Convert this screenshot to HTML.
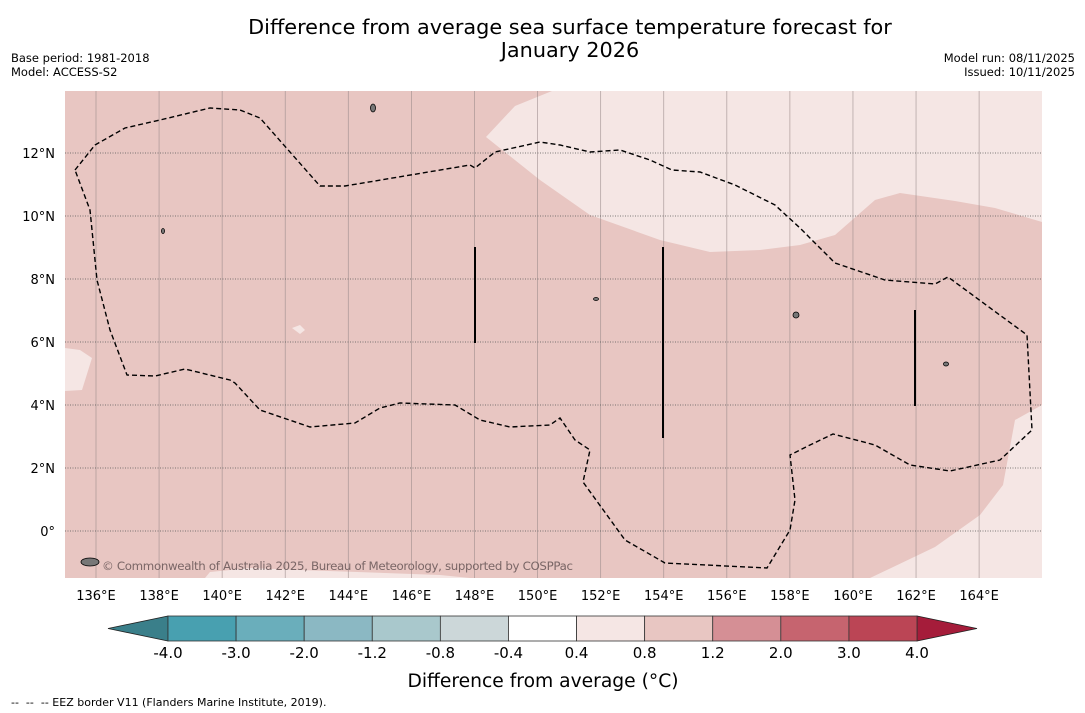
<!DOCTYPE html>
<html><head><meta charset="utf-8"><style>
body{margin:0;background:#fff;width:1085px;height:713px;overflow:hidden;font-family:"Liberation Sans","DejaVu Sans",sans-serif}
svg{position:absolute;left:0;top:0}
</style></head><body>
<svg id="c" width="1085" height="713" font-family="DejaVu Sans, Liberation Sans, sans-serif">
<text x="570" y="34" font-size="20.8" text-anchor="middle">Difference from average sea surface temperature forecast for</text>
<text x="570" y="57" font-size="20.8" text-anchor="middle">January 2026</text>
<text x="11" y="62" font-size="11.5">Base period: 1981-2018</text>
<text x="11" y="76" font-size="11.5">Model: ACCESS-S2</text>
<text x="1075" y="62" font-size="11.5" text-anchor="end">Model run: 08/11/2025</text>
<text x="1075" y="76" font-size="11.5" text-anchor="end">Issued: 10/11/2025</text>
<g id="map"></g>
<g id="cb"></g>
<text x="543" y="687" font-size="18.7" text-anchor="middle">Difference from average (°C)</text>
<text x="11" y="706" font-size="11" xml:space="preserve">--  --  -- EEZ border V11 (Flanders Marine Institute, 2019).</text>
</svg>
<script>
const lonTicks=[136,138,140,142,144,146,148,150,152,154,156,158,160,162,164];
const latTicks=[0,2,4,6,8,10,12];
const cbBounds=["-4.0","-3.0","-2.0","-1.2","-0.8","-0.4","0.4","0.8","1.2","2.0","3.0","4.0"];
const cbColors=["#48a0b0","#6aaebb","#8bb8c3","#a9c8cc","#ccd7d9","#ffffff","#f5e6e4","#e8c6c2","#d58f95","#c6646f","#bb4555"];
const ns="http://www.w3.org/2000/svg";
const X0=65,X1=1042,Y0=91,Y1=578;
const xLon=l=>96+(l-136)*31.54;
const yLat=l=>531-l*31.5;
function mk(p,t,a){const e=document.createElementNS(ns,t);for(const k in a)e.setAttribute(k,a[k]);p.appendChild(e);return e;}
const m=document.getElementById('map');
let e=mk(m,'rect',{x:X0,y:Y0,width:X1-X0,height:Y1-Y0,fill:'#e8c6c2'});


const light=[
"486,137 515,106 552,91 1042,91 1042,222 995,208 955,201 900,193 875,200 835,235 800,245 760,250 710,252 660,240 590,215 540,180",
"1042,405 1015,420 1003,485 980,515 935,547 870,578 1042,578",
"205,578 210,572 250,568 300,570 440,575 470,578",
"65,348 80,350 92,358 82,390 65,391",
"292,328 300,325 305,330 300,334"];
light.forEach((p,i)=>{const q=mk(m,'polygon',{points:p,fill:'#f5e6e4'});

});
lonTicks.forEach(l=>{const x=xLon(l);
const g=mk(m,'line',{x1:x,x2:x,y1:Y0,y2:Y1,stroke:'#9a8a8a','stroke-width':0.8,'stroke-opacity':0.7});


const t=mk(document.getElementById('c'),'text',{x:x,y:600,'font-size':13,'text-anchor':'middle'});t.textContent=l+'°E';

});
latTicks.forEach(l=>{const y=yLat(l);
const g=mk(m,'line',{x1:X0,x2:X1,y1:y,y2:y,stroke:'#555','stroke-width':0.8,'stroke-dasharray':'1,1.5'});


const t=mk(document.getElementById('c'),'text',{x:55,y:y+5,'font-size':13,'text-anchor':'end'});t.textContent=l===0?'0°':l+'°N';

});
const eez="75,170 95,145 125,128 160,120 210,108 240,110 260,118 320,186 345,186 470,165 475,168 495,152 540,142 560,145 590,152 620,150 650,160 672,170 700,172 735,185 775,205 800,228 835,263 885,280 935,284 948,277 1027,335 1032,430 1000,460 950,471 910,465 875,445 833,434 810,445 790,455 795,500 790,530 767,568 665,563 625,540 583,482 590,450 575,440 560,418 550,425 510,427 480,420 455,405 400,403 380,408 355,423 310,427 260,410 235,383 230,380 185,369 155,376 127,375 110,330 97,280 90,210";
e=mk(m,'polygon',{points:eez,fill:'none',stroke:'#000','stroke-width':1.4,'stroke-dasharray':'5,3'});


[[475,247,343],[663,247,438],[915,310,406]].forEach(v=>{const l=mk(m,'line',{x1:v[0],x2:v[0],y1:v[1],y2:v[2],stroke:'#000','stroke-width':2});

});
[[373,108,2.5,4],[796,315,3,3],[946,364,2.5,2],[163,231,1.5,2.5],[596,299,2.5,1.5],[90,562,9,4]].forEach(s=>{const i=mk(m,'ellipse',{cx:s[0],cy:s[1],rx:s[2],ry:s[3],fill:'#777',stroke:'#000','stroke-width':0.8});

});
e=mk(m,'text',{x:102,y:570,'font-size':11.8,fill:'#7a6666',textLength:471});e.textContent='© Commonwealth of Australia 2025, Bureau of Meteorology, supported by COSPPac';


const cb=document.getElementById('cb');
const cx0=168,cx1=917,cy0=616,cy1=641,w=(cx1-cx0)/cbColors.length;
e=mk(cb,'polygon',{points:`108,628.5 ${cx0},${cy0} ${cx0},${cy1}`,fill:'#3a7f8a',stroke:'#222','stroke-width':0.8});


e=mk(cb,'polygon',{points:`977,628.5 ${cx1},${cy0} ${cx1},${cy1}`,fill:'#a51c3a',stroke:'#222','stroke-width':0.8});


cbColors.forEach((c,i)=>{const r=mk(cb,'rect',{x:cx0+i*w,y:cy0,width:w,height:cy1-cy0,fill:c,stroke:'#333','stroke-width':0.8});

});
cbBounds.forEach((b,i)=>{const t=mk(document.getElementById('c'),'text',{x:cx0+i*w,y:658,'font-size':15,'text-anchor':'middle'});t.textContent=b;

});
</script>
</body></html>
